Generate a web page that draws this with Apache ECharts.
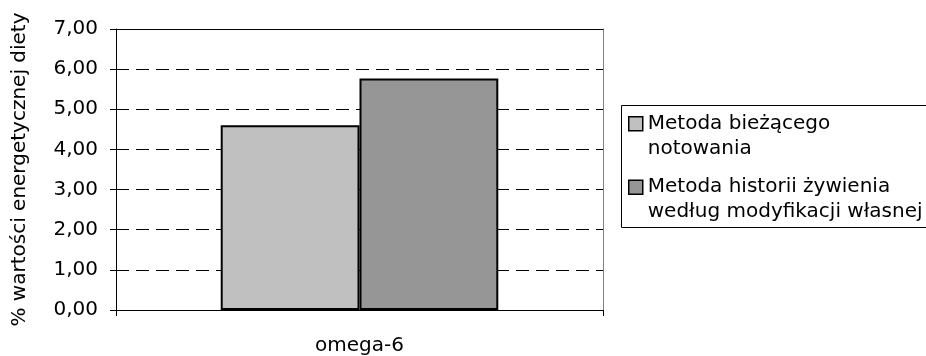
<!DOCTYPE html>
<html><head><meta charset="utf-8">
<script src="https://cdn.jsdelivr.net/npm/echarts@6/dist/echarts.min.js"></script>
<style>html,body{margin:0;padding:0;background:#fff;}#c{width:926px;height:356px;}</style>
</head><body><div id="c"></div>
<script>
const categories = ['omega-6'];
const seriesNames = ['Metoda bieżącego notowania', 'Metoda historii żywienia według modyfikacji własnej'];
const legendLabels = ['Metoda bieżącego\nnotowania', 'Metoda historii żywienia\nwedług modyfikacji własnej'];
const valuesCurrent = [4.60];
const valuesHistory = [5.77];
const yMin = 0, yMax = 7, yStep = 1;
const yAxisTitle = '% wartości energetycznej diety';
const colors = ['#C0C0C0', '#969696'];

const FONT = 'DejaVu Sans';
const chart = echarts.init(document.getElementById('c'), null, {renderer: 'canvas'});
const iconPath = 'path://M0,5.5H14V19.5H0Z M0,0L0,0 M0,50L0,50';
chart.setOption({
  animation: false,
  backgroundColor: '#fff',
  grid: {left: 116, right: 323, top: 29, bottom: 46, containLabel: false},
  graphic: [{
    type: 'rect', z: 0, silent: true,
    shape: {x: 621.5, y: 105.5, width: 400, height: 122},
    style: {fill: '#fff', stroke: '#000', lineWidth: 1}
  }],
  legend: {
    orient: 'vertical', left: 622, top: 106, z: 10,
    itemGap: 12, itemWidth: 14, itemHeight: 50,
    padding: [4.5, 10, 5.5, 6],
    borderWidth: 0,
    selectedMode: false,
    data: seriesNames.map(n => ({name: n, icon: iconPath})),
    itemStyle: {borderColor: '#000', borderWidth: 1.5},
    formatter: n => legendLabels[seriesNames.indexOf(n)],
    textStyle: {fontFamily: FONT, fontSize: 20, lineHeight: 25, color: '#000'}
  },
  xAxis: [{
    type: 'category', data: categories,
    axisLine: {show: true, onZero: false, lineStyle: {color: '#000', width: 1}},
    axisTick: {show: true, length: 6, alignWithLabel: false, lineStyle: {color: '#000'}},
    axisLabel: {fontFamily: FONT, fontSize: 20, color: '#000', margin: 26},
    splitLine: {show: false}
  }, {
    type: 'category', data: categories, position: 'top',
    axisLine: {show: true, onZero: false, lineStyle: {color: '#000', width: 1}},
    axisTick: {show: false}, axisLabel: {show: false}, splitLine: {show: false}
  }],
  yAxis: [{
    type: 'value', min: yMin, max: yMax, interval: yStep,
    name: yAxisTitle, nameLocation: 'middle', nameGap: 86,
    nameTextStyle: {fontFamily: FONT, fontSize: 20, color: '#000'},
    axisLine: {show: true, onZero: false, lineStyle: {color: '#000', width: 1}},
    axisTick: {show: true, length: 6, inside: false, lineStyle: {color: '#000'}},
    axisLabel: {fontFamily: FONT, fontSize: 20, color: '#000', margin: 18,
      formatter: v => v.toFixed(2).replace('.', ',')},
    splitLine: {show: true, lineStyle: {color: '#000', width: 1, type: [13, 7]}}
  }, {
    type: 'value', min: yMin, max: yMax, interval: yStep, position: 'right',
    axisLine: {show: true, onZero: false, lineStyle: {color: '#808080', width: 1}},
    axisTick: {show: false}, axisLabel: {show: false}, splitLine: {show: false}
  }],
  series: [{
    name: seriesNames[0], type: 'bar', data: valuesCurrent,
    barGap: '0%', barCategoryGap: '43%',
    itemStyle: {color: colors[0], borderColor: '#000', borderWidth: 2}
  }, {
    name: seriesNames[1], type: 'bar', data: valuesHistory,
    barGap: '0%', barCategoryGap: '43%',
    itemStyle: {color: colors[1], borderColor: '#000', borderWidth: 2}
  }]
});
</script>
</body></html>
